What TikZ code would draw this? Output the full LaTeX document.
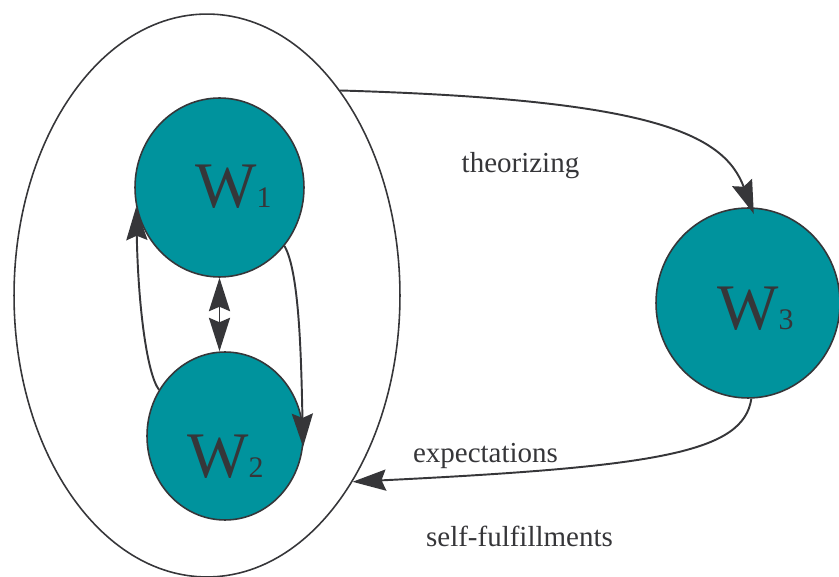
\documentclass[tikz,border=0pt]{standalone}
\usepackage{fontspec}
\setmainfont{Liberation Serif}
\usetikzlibrary{shapes.geometric,arrows.meta}
\definecolor{tealfill}{HTML}{00939D}
\definecolor{inkgray}{HTML}{363639}

\begin{document}
\begin{tikzpicture}[x=0.02cm,y=-0.02cm,
    >={Stealth[length=19pt,width=12pt,inset=2.5pt]},
    world/.style={ellipse,draw=inkgray,line width=0.9pt,fill=tealfill,inner sep=0pt},
    wlabel/.style={anchor=base,text=inkgray,inner sep=0pt},
    caption/.style={anchor=base,text=inkgray,inner sep=0pt,font=\fontsize{16.5}{19}\selectfont},
    flow/.style={draw=inkgray,line width=1.1pt,->}]

  \useasboundingbox (0,0) rectangle (839,577);

  % the enclosing world of W1 and W2
  \node[ellipse,draw=inkgray,line width=0.9pt,inner sep=0pt,
        minimum width=7.72cm,minimum height=11.26cm] (outer) at (207,295.5) {};

  \foreach \n/\cx/\cy/\ew/\eh in {1/219.5/187.5/3.38/3.58, 2/225/436/3.12/3.36, 3/748/303/3.68/3.80}{
    \node[world,minimum width=\ew cm,minimum height=\eh cm] (w\n) at (\cx,\cy) {};
  }

  \foreach \n/\lx/\ly in {1/233.5/208, 2/225.5/478, 3/755.5/330}{
    \node[wlabel] (wlab\n) at (\lx,\ly) {{\fontsize{37}{37}\selectfont W}{\fontsize{17}{18}\selectfont \n}};
  }

  % arrows between the worlds
  \draw[flow,shorten >=-4pt] (outer.57.5) .. controls +(308,9) and +(-28,-75) .. (w3.88);
  \draw[flow] (w3.-88) .. controls +(-8,54) and +(305,-15) .. (outer.-52);
  \draw[flow] (w2.145) .. controls +(-12,-16) and +(2,100) .. (w1.-167);
  \draw[flow] (w1.-42) .. controls +(15,26) and +(-2,-90) .. (w2.-8);
  \draw[flow,<->] (w1.south) -- (w1.south |- w2.north);

  \node[caption] (theo) at (520.5,173) {theorizing};
  \node[caption] (expect) at (485.5,463) {expectations};
  \node[caption] (selffulfil) at (519.5,547) {self-fulfillments};
\end{tikzpicture}
\end{document}
